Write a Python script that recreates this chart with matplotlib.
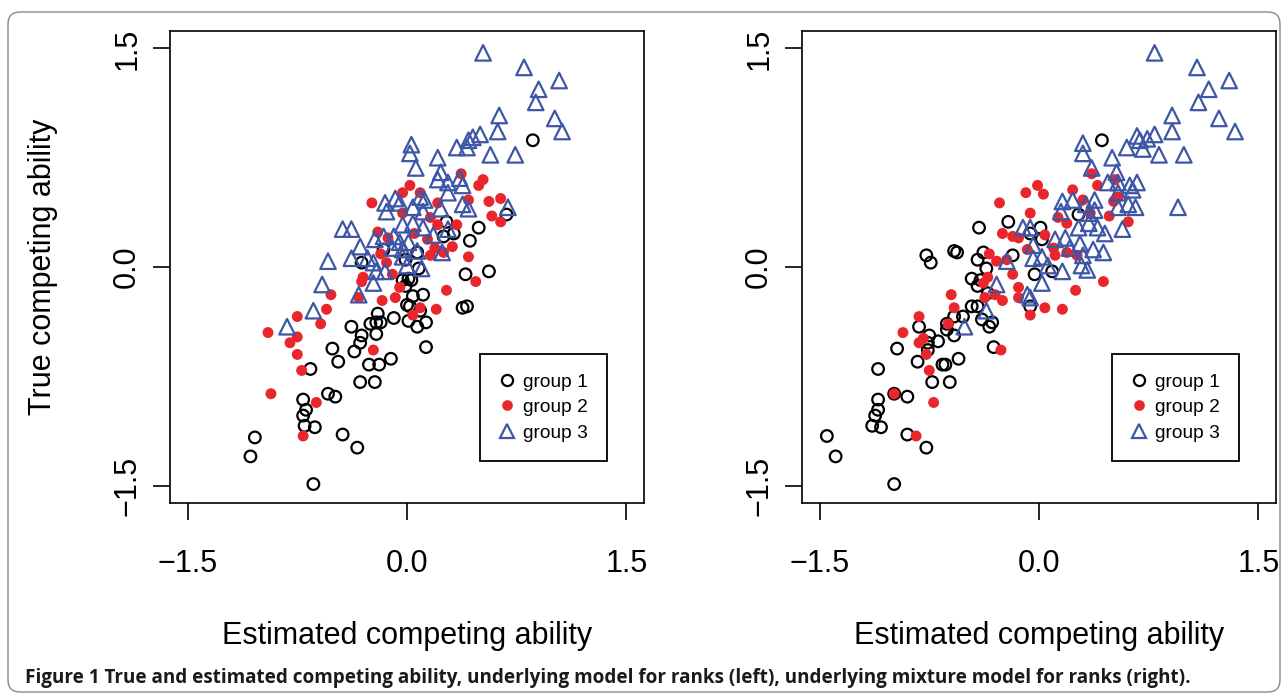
import matplotlib
matplotlib.use('Agg')
import matplotlib.pyplot as plt
from matplotlib.patches import FancyBboxPatch
from matplotlib.lines import Line2D

# ---------------- data (estimated, true) ----------------
# Left panel: underlying model for ranks
L_g1_x = [0.86, 0.68, 0.49, 0.27, 0.32, 0.25, 0.43, 0.07, -0.01, 0.08, 0.01, -0.03, 0.03, -0.01,
          0.40, 0.56, 0.04, 0.11, 0.00, 0.02, 0.09, 0.38, 0.41, 0.01, 0.07, 0.13, -0.16, -0.31,
          -0.20, -0.09, -0.38, -0.25, -0.21, -0.18, -0.31, -0.21, -0.32, -0.51, -0.36, -0.47,
          -0.11, -0.26, -0.19, -0.66, -0.32, -0.22, -0.54, -0.49, -0.71, -0.69, -0.71, -0.70,
          -0.63, -1.04, -0.44, -0.34, -1.07, -0.64, 0.13]
L_g1_y = [0.87, 0.36, 0.27, 0.31, 0.23, 0.21, 0.18, 0.10, 0.05, -0.01, -0.08, -0.09, -0.09, -0.13,
          -0.05, -0.03, -0.20, -0.19, -0.26, -0.27, -0.30, -0.28, -0.27, -0.37, -0.41, -0.38, 0.12,
          0.03, -0.32, -0.35, -0.41, -0.39, -0.38, -0.38, -0.47, -0.46, -0.52, -0.56, -0.58, -0.65,
          -0.63, -0.67, -0.67, -0.70, -0.79, -0.79, -0.87, -0.89, -0.91, -0.98, -1.02, -1.09,
          -1.10, -1.17, -1.15, -1.24, -1.30, -1.49, -0.55]

L_g2_x = [0.37, 0.52, 0.49, 0.02, -0.03, 0.09, 0.42, 0.21, 0.56, 0.64, 0.58, 0.64, -0.03, 0.16,
          0.21, 0.34, 0.05, 0.14, 0.31, 0.19, 0.16, 0.25, 0.42, 0.47, 0.27, 0.09, 0.20, 0.04,
          -0.24, -0.20, -0.13, -0.18, -0.14, -0.30, -0.31, -0.10, -0.52, -0.33, -0.17, -0.08,
          -0.05, -0.55, -0.75, -0.59, -0.95, -0.75, -0.80, -0.75, -0.72, -0.93, -0.62, -0.71, -0.23]
L_g2_y = [0.64, 0.60, 0.56, 0.56, 0.51, 0.51, 0.46, 0.44, 0.45, 0.47, 0.35, 0.31, 0.37, 0.34,
          0.29, 0.29, 0.23, 0.19, 0.14, 0.13, 0.08, 0.10, 0.07, -0.10, -0.16, -0.28, -0.29, -0.33,
          0.44, 0.24, 0.20, 0.09, 0.03, -0.07, -0.10, -0.05, -0.19, -0.21, -0.23, -0.21,
          -0.14, -0.29, -0.34, -0.39, -0.45, -0.48, -0.52, -0.60, -0.71, -0.87, -0.93, -1.16, -0.57]

L_g3_x = [0.52, 0.80, 1.04, 0.90, 0.88, 0.63, 1.01, 0.62, 1.06, 0.50, 0.45, 0.42, 0.34, 0.41,
          0.57, 0.74, 0.03, 0.02, 0.21, 0.06, 0.23, 0.21, 0.28, 0.36, 0.38, 0.09, 0.12, 0.04,
          0.11, 0.23, 0.38, 0.42, 0.28, 0.69, -0.05, -0.03, 0.04, 0.11, 0.28, 0.18, 0.01, -0.05,
          0.07, 0.24, -0.03, 0.00, 0.10, -0.03, -0.08, -0.15, -0.14, -0.44, -0.38, -0.22, -0.16,
          -0.09, -0.32, -0.38, -0.27, -0.10, -0.23, -0.54, -0.21, -0.15, -0.23, -0.58, -0.33,
          -0.64, -0.82]
L_g3_y = [1.47, 1.37, 1.28, 1.22, 1.13, 1.04, 1.02, 0.93, 0.93, 0.91, 0.89, 0.87, 0.82, 0.82,
          0.77, 0.77, 0.84, 0.78, 0.75, 0.68, 0.65, 0.60, 0.58, 0.61, 0.56, 0.48, 0.46, 0.41,
          0.38, 0.40, 0.43, 0.40, 0.51, 0.41, 0.44, 0.29, 0.30, 0.27, 0.26, 0.22, 0.17, 0.17,
          0.11, 0.10, 0.07, 0.01, -0.01, 0.12, 0.47, 0.44, 0.38, 0.26, 0.26, 0.19, 0.21,
          0.21, 0.14, 0.06, 0.06, 0.13, 0.03, 0.04, -0.03, -0.03, -0.11, -0.12, -0.19,
          -0.30, -0.41]

# Right panel: underlying mixture model for ranks
R_g1_x = [0.43, 0.27, 0.01, -0.06, 0.02, -0.03, 0.09, -0.06, -0.41, -0.21, -0.77, -0.74, -0.58,
          -0.56, -0.38, -0.42, -0.18, -0.36, -0.46, -0.40, -0.42, -0.35, -0.46, -0.42, -0.52,
          -0.58, -0.63, -0.82, -0.39, -0.32, -0.34, -0.58, -0.75, -0.69, -0.76, -0.63, -0.97,
          -0.76, -0.83, -0.55, -0.66, -0.64, -1.10, -0.73, -0.61, -0.99, -0.90, -1.10, -1.10,
          -1.12, -1.14, -1.08, -1.45, -0.90, -0.77, -1.39, -0.99, -0.31]
R_g1_y = [0.87, 0.36, 0.27, 0.23, 0.19, -0.05, -0.03, -0.27, 0.27, 0.31, 0.08, 0.03, 0.11,
          0.10, 0.10, 0.05, 0.08, -0.01, -0.08, -0.09, -0.13, -0.18, -0.27, -0.27, -0.34,
          -0.34, -0.39, -0.41, -0.36, -0.38, -0.41, -0.47, -0.47, -0.51, -0.52, -0.43, -0.56,
          -0.57, -0.65, -0.63, -0.67, -0.67, -0.70, -0.79, -0.79, -0.87, -0.89, -0.91, -0.98,
          -1.02, -1.09, -1.10, -1.16, -1.15, -1.24, -1.30, -1.49, -0.55]

R_g2_x = [0.36, -0.01, 0.23, 0.40, 0.52, 0.03, 0.30, 0.51, 0.54, -0.06, 0.48, 0.61, 0.13, 0.19,
          0.35, 0.04, 0.10, 0.11, 0.19, 0.26, 0.44, 0.25, 0.04, 0.16, -0.06, -0.27, -0.09,
          -0.25, -0.18, -0.14, -0.08, -0.34, -0.29, -0.22, -0.18, -0.35, -0.38, -0.14, -0.14,
          -0.30, -0.25, -0.37, -0.60, -0.58, -0.62, -0.82, -0.93, -0.79, -0.82, -0.77, -0.75,
          -0.99, -0.72, -0.84, -0.26]
R_g2_y = [0.64, 0.56, 0.53, 0.56, 0.60, 0.50, 0.46, 0.45, 0.48, 0.37, 0.35, 0.31, 0.34, 0.30,
          0.37, 0.22, 0.13, 0.08, 0.10, 0.08, -0.10, -0.16, -0.28, -0.29, -0.33, 0.44, 0.51,
          0.23, 0.21, 0.20, 0.12, 0.09, 0.04, 0.05, -0.05, -0.07, -0.11, -0.14, -0.21,
          -0.19, -0.23, -0.21, -0.19, -0.28, -0.39, -0.34, -0.45, -0.49, -0.52, -0.60, -0.71,
          -0.87, -0.93, -1.16, -0.57]

R_g3_x = [0.79, 1.08, 1.30, 1.16, 1.09, 0.91, 1.23, 1.34, 0.91, 0.79, 0.67, 0.74, 0.69, 0.60,
          0.71, 0.82, 0.99, 0.30, 0.30, 0.50, 0.36, 0.53, 0.47, 0.54, 0.62, 0.67, 0.64, 0.54,
          0.16, 0.23, 0.15, 0.32, 0.38, 0.38, 0.34, 0.54, 0.66, 0.61, 0.95, 0.27, 0.34, 0.40,
          0.57, 0.45, -0.06, -0.11, 0.11, 0.18, 0.28, 0.21, 0.37, 0.30, 0.44, -0.04, 0.02,
          -0.04, 0.29, 0.33, 0.16, 0.06, 0.02, -0.06, -0.22, -0.29, -0.08, -0.36, -0.51]
R_g3_y = [1.47, 1.37, 1.28, 1.22, 1.13, 1.04, 1.02, 0.93, 0.93, 0.91, 0.90, 0.88, 0.87, 0.82,
          0.81, 0.77, 0.77, 0.85, 0.78, 0.75, 0.68, 0.65, 0.58, 0.58, 0.56, 0.58, 0.53, 0.51,
          0.45, 0.46, 0.38, 0.43, 0.46, 0.39, 0.37, 0.41, 0.41, 0.43, 0.41, 0.27, 0.30, 0.27,
          0.26, 0.23, 0.27, 0.27, 0.19, 0.20, 0.16, 0.13, 0.12, 0.08, 0.10, 0.15, 0.07,
          0.06, 0.01, -0.02, -0.03, 0.01, -0.11, -0.21, 0.04, -0.12, -0.19, -0.30, -0.41]

ticks = [-1.5, 0.0, 1.5]
tick_labels = ['\u22121.5', '0.0', '1.5']
group_labels = ['group 1', 'group 2', 'group 3']
xlabel_text = 'Estimated competing ability'
ylabel_text = 'True competing ability'
caption = ('Figure 1 True and estimated competing ability, underlying model for ranks (left), '
           'underlying mixture model for ranks (right).')

# ---------------- styling ----------------
RED = '#E8262B'
BLUE = '#3D56A6'
W, H = 1282, 698

plt.rcParams['font.family'] = ['Liberation Sans', 'DejaVu Sans']
fig = plt.figure(figsize=(W / 100, H / 100), dpi=100)
fig.patch.set_facecolor('white')


def px_axes(l, t, r, b):
    return fig.add_axes([l / W, 1 - b / H, (r - l) / W, (b - t) / H])


def draw_panel(ax, g1x, g1y, g2x, g2y, g3x, g3y, ylabel):
    ax.scatter(g1x, g1y, s=70, facecolors='none', edgecolors='black', linewidths=1.6, zorder=3)
    ax.scatter(g2x, g2y, s=62, c=RED, edgecolors='none', zorder=4)
    ax.scatter(g3x, g3y, s=125, marker='^', facecolors='none', edgecolors=BLUE,
               linewidths=1.6, zorder=5)
    ax.set_xlim(-1.62, 1.62)
    ax.set_ylim(-1.62, 1.62)
    ax.set_xticks(ticks)
    ax.set_yticks(ticks)
    ax.set_xticklabels(tick_labels)
    ax.set_yticklabels(tick_labels, rotation=90, va='center')
    ax.tick_params(axis='both', direction='out', length=12, width=1.2, labelsize=22,
                   top=False, right=False)
    ax.tick_params(axis='x', pad=21)
    ax.tick_params(axis='y', pad=8)
    for sp in ax.spines.values():
        sp.set_linewidth(1.2)
    ax.set_xlabel(xlabel_text, fontsize=22, va='center')
    ax.xaxis.set_label_coords(0.5, (503 - 636) / 472)
    if ylabel:
        ax.set_ylabel(ylabel_text, fontsize=22, va='center')
        ax.yaxis.set_label_coords((43 - 170) / 474, 0.5)
    handles = [
        Line2D([], [], ls='none', marker='o', ms=8.0, mfc='none', mec='black', mew=1.6),
        Line2D([], [], ls='none', marker='o', ms=7.7, mfc=RED, mec='none'),
        Line2D([], [], ls='none', marker='^', ms=10.5, mfc='none', mec=BLUE, mew=1.6),
    ]
    leg = ax.legend(handles, group_labels, loc='upper left',
                    bbox_to_anchor=((480 - 170) / 474, (503 - 354) / 472),
                    fontsize=13.8, frameon=True, fancybox=False, framealpha=1,
                    edgecolor='black', borderpad=1.0, labelspacing=0.42,
                    handlelength=0.8, handletextpad=0.45, borderaxespad=0)
    leg.get_frame().set_linewidth(1.3)


ax1 = px_axes(170, 31, 644, 503)
draw_panel(ax1, L_g1_x, L_g1_y, L_g2_x, L_g2_y, L_g3_x, L_g3_y, True)
ax2 = px_axes(802, 31, 1276, 503)
draw_panel(ax2, R_g1_x, R_g1_y, R_g2_x, R_g2_y, R_g3_x, R_g3_y, False)

# outer rounded frame
border = FancyBboxPatch((8, 6), 1272, 680, boxstyle='round,pad=0,rounding_size=12',
                        transform=None, fill=False, edgecolor='#8a8a8a', linewidth=1.0)
fig.add_artist(border)

fig.text(25 / W, 1 - 683 / H, caption, fontsize=13.55, fontweight='bold',
         family=['Open Sans', 'DejaVu Sans'], va='baseline', ha='left', color='#1a1a1a')

fig.savefig('out.png', dpi=100)
